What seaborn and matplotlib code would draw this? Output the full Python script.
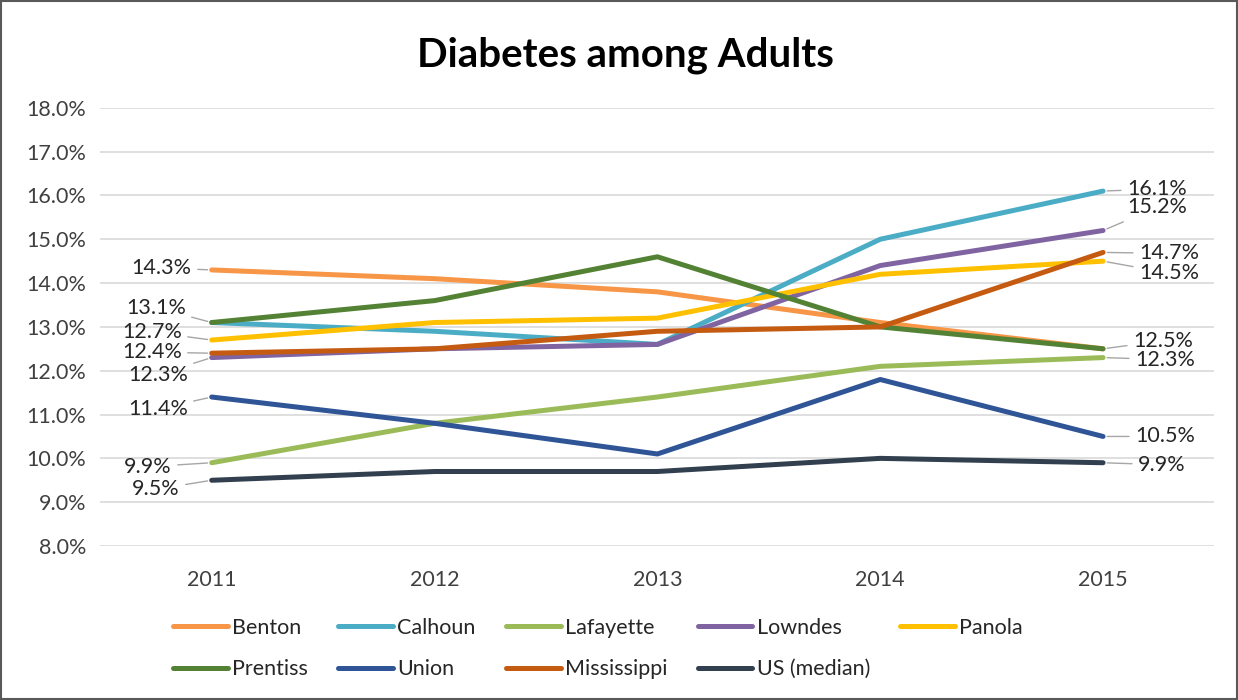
import matplotlib
matplotlib.use("Agg")
import matplotlib.pyplot as plt
from matplotlib.patches import Rectangle
from matplotlib.ticker import FuncFormatter
import seaborn as sns
import pandas as pd

years = [2011, 2012, 2013, 2014, 2015]
series_names = ["Benton", "Calhoun", "Lafayette", "Lowndes", "Panola",
                "Prentiss", "Union", "Mississippi", "US (median)"]
benton = [14.3, 14.1, 13.8, 13.1, 12.5]
calhoun = [13.1, 12.9, 12.6, 15.0, 16.1]
lafayette = [9.9, 10.8, 11.4, 12.1, 12.3]
lowndes = [12.3, 12.5, 12.6, 14.4, 15.2]
panola = [12.7, 13.1, 13.2, 14.2, 14.5]
prentiss = [13.1, 13.6, 14.6, 13.0, 12.5]
union = [11.4, 10.8, 10.1, 11.8, 10.5]
mississippi = [12.4, 12.5, 12.9, 13.0, 14.7]
us_median = [9.5, 9.7, 9.7, 10.0, 9.9]
colors = ["#F79646", "#4BACC6", "#9BBB59", "#8064A2", "#FFC000",
          "#548235", "#2F5597", "#C55A11", "#323F4F"]

values = [benton, calhoun, lafayette, lowndes, panola,
          prentiss, union, mississippi, us_median]
df = pd.DataFrame(
    [(name, yr, v) for name, vals in zip(series_names, values)
     for yr, v in zip(years, vals)],
    columns=["County", "Year", "Rate"],
)

sns.set_theme(style="white")
plt.rcParams["font.family"] = ["Lato", "DejaVu Sans"]

fig = plt.figure(figsize=(12.38, 7.0), dpi=100)
ax = fig.add_axes([0.081, 0.22, 0.9, 0.626])

sns.lineplot(data=df, x="Year", y="Rate", hue="County",
             hue_order=series_names, palette=colors, linewidth=3.6,
             sort=False, ax=ax, legend=False)

ax.set_xlim(2010.5, 2015.5)
ax.set_ylim(8, 18)
ax.set_yticks(range(8, 19))
ax.set_xticks(years)
ax.yaxis.set_major_formatter(FuncFormatter(lambda v, _: f"{v:.1f}%"))
ax.grid(axis="y", color="#D9D9D9", linewidth=1.2)
ax.set_axisbelow(True)
for s in ax.spines.values():
    s.set_visible(False)
ax.set_xlabel("")
ax.set_ylabel("")
ax.tick_params(axis="both", labelsize=15.5, colors="#404040", length=0)
ax.tick_params(axis="x", pad=17)
ax.tick_params(axis="y", pad=10)

fig.text(0.505, 0.921, "Diabetes among Adults", ha="center", va="center",
         fontsize=29, fontweight="bold", color="#000000")

# value labels with leader lines: (series, year index, dx, dy) in pixels
label_spec = [
    ("Benton", 0, -20, 2),
    ("Calhoun", 0, -26, 15),
    ("Panola", 0, -30, 8),
    ("Mississippi", 0, -30, 1),
    ("Lowndes", 0, -24, -17),
    ("Union", 0, -24, -12),
    ("Lafayette", 0, -40, -4),
    ("US (median)", 0, -32, -9),
    ("Calhoun", 4, 24, 2),
    ("Lowndes", 4, 24, 23),
    ("Mississippi", 4, 36, -1),
    ("Panola", 4, 36, -12),
    ("Prentiss", 4, 30, 8),
    ("Lafayette", 4, 32, -2),
    ("Union", 4, 32, 0),
    ("US (median)", 4, 35, -2),
]
lookup = dict(zip(series_names, values))
for name, i, dx, dy in label_spec:
    v = lookup[name][i]
    ax.annotate(f"{v:.1f}%", xy=(years[i], v), xytext=(dx, dy),
                textcoords="offset pixels",
                ha="right" if dx < 0 else "left", va="center",
                fontsize=15.5, color="#262626",
                arrowprops=dict(arrowstyle="-", color="#A6A6A6", lw=1,
                                shrinkA=2, shrinkB=3))

handles = [plt.Line2D([], [], color=c, linewidth=3.6) for c in colors]
order = [0, 5, 1, 6, 2, 7, 3, 8, 4]
fig.legend([handles[k] for k in order], [series_names[k] for k in order],
           ncol=5, loc="center", bbox_to_anchor=(0.483, 0.0736),
           frameon=False, fontsize=15.5, handlelength=2.55, handletextpad=0.2,
           columnspacing=1.4, labelspacing=1.0, labelcolor="#262626")

fig.patches.append(Rectangle((0.001, 0.001), 0.998, 0.998, transform=fig.transFigure,
                             fill=False, edgecolor="#595959", linewidth=1.5))

fig.savefig("out.png", dpi=100)
